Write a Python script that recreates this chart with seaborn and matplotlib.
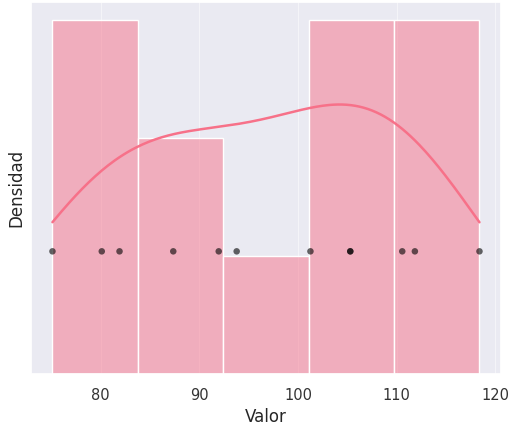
import matplotlib
matplotlib.use("Agg")
import matplotlib.pyplot as plt
import seaborn as sns
import numpy as np
import pandas as pd

valores = [75.1, 80.1, 81.9, 87.35, 91.96, 93.78, 101.26, 105.3, 105.3, 110.57, 111.85, 118.4]
nivel_puntos = 0.01
xlabel = "Valor"
ylabel = "Densidad"

sns.set_theme(style="darkgrid")
color = sns.color_palette("husl", 8)[0]

df = pd.DataFrame({"valor": valores})
fig, ax = plt.subplots(figsize=(5.1, 4.26), dpi=100)
sns.histplot(data=df, x="valor", bins=5, stat="density", kde=True,
             color=color, alpha=0.5, edgecolor="white", linewidth=1,
             line_kws={"linewidth": 1.8}, ax=ax)
sns.scatterplot(x=valores, y=[nivel_puntos] * len(valores), color="black",
                alpha=0.6, s=22, edgecolor="none", ax=ax, zorder=5)
ax.set_yticks([])
ax.set_xlabel(xlabel)
ax.set_ylabel(ylabel)
ax.set_xticks([80, 90, 100, 110, 120])
ax.grid(True, axis="x", color="white", linewidth=0.8, alpha=0.5)
ax.tick_params(axis="x", labelsize=10.5, labelcolor="#333333", pad=4)
fig.subplots_adjust(left=0.061, right=0.982, top=0.995, bottom=0.122)
fig.savefig("out.png", dpi=100)
